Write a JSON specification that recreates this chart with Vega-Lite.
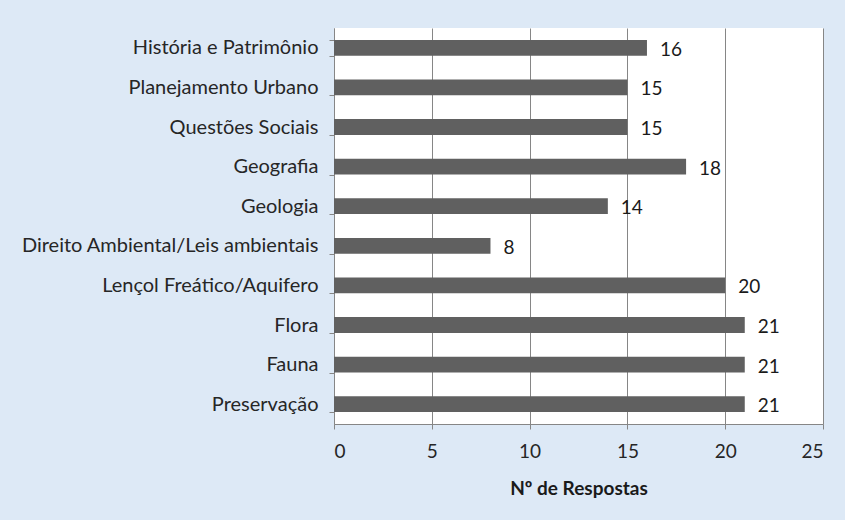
{
  "$schema": "https://vega.github.io/schema/vega-lite/v6.json",
  "width": 489,
  "height": 396,
  "autosize": {"type": "none"},
  "padding": {"left": 334, "top": 28, "right": 22, "bottom": 96},
  "background": "#dde9f6",
  "data": {
    "values": [
      {"tema": "História e Patrimônio", "n": 16},
      {"tema": "Planejamento Urbano", "n": 15},
      {"tema": "Questões Sociais", "n": 15},
      {"tema": "Geografia", "n": 18},
      {"tema": "Geologia", "n": 14},
      {"tema": "Direito Ambiental/Leis ambientais", "n": 8},
      {"tema": "Lençol Freático/Aquifero", "n": 20},
      {"tema": "Flora", "n": 21},
      {"tema": "Fauna", "n": 21},
      {"tema": "Preservação", "n": 21}
    ]
  },
  "encoding": {
    "y": {
      "field": "tema",
      "type": "nominal",
      "sort": null,
      "scale": {"paddingInner": 0.6, "paddingOuter": 0.3},
      "axis": {
        "title": null,
        "tickBand": "extent",
        "tickSize": 5,
        "tickColor": "#868686",
        "domainColor": "#868686",
        "labelPadding": 11,
        "labelFont": "Lato",
        "labelFontSize": 20,
        "labelColor": "#262626",
        "labelLimit": 400,
        "grid": false
      }
    },
    "x": {
      "field": "n",
      "type": "quantitative",
      "scale": {"domain": [0, 25], "nice": false},
      "axis": {
        "values": [0, 5, 10, 15, 20, 25],
        "title": "Nº de Respostas",
        "titleFont": "Lato",
        "titleFontSize": 19,
        "titleFontWeight": "bold",
        "titleColor": "#1a1a1a",
        "titlePadding": 18,
        "labelFont": "Lato",
        "labelFontSize": 19,
        "labelColor": "#262626",
        "labelPadding": 13,
        "tickSize": 5,
        "tickColor": "#868686",
        "domainColor": "#868686",
        "grid": true,
        "gridColor": "#868686"
      }
    }
  },
  "layer": [
    {"mark": {"type": "bar", "color": "#606060"}},
    {
      "mark": {"type": "text", "align": "left", "dx": 13, "dy": 2, "font": "Lato", "fontSize": 19, "color": "#1a1a1a"},
      "encoding": {"text": {"field": "n", "type": "quantitative"}}
    }
  ],
  "config": {"view": {"fill": "white", "stroke": null}}
}
